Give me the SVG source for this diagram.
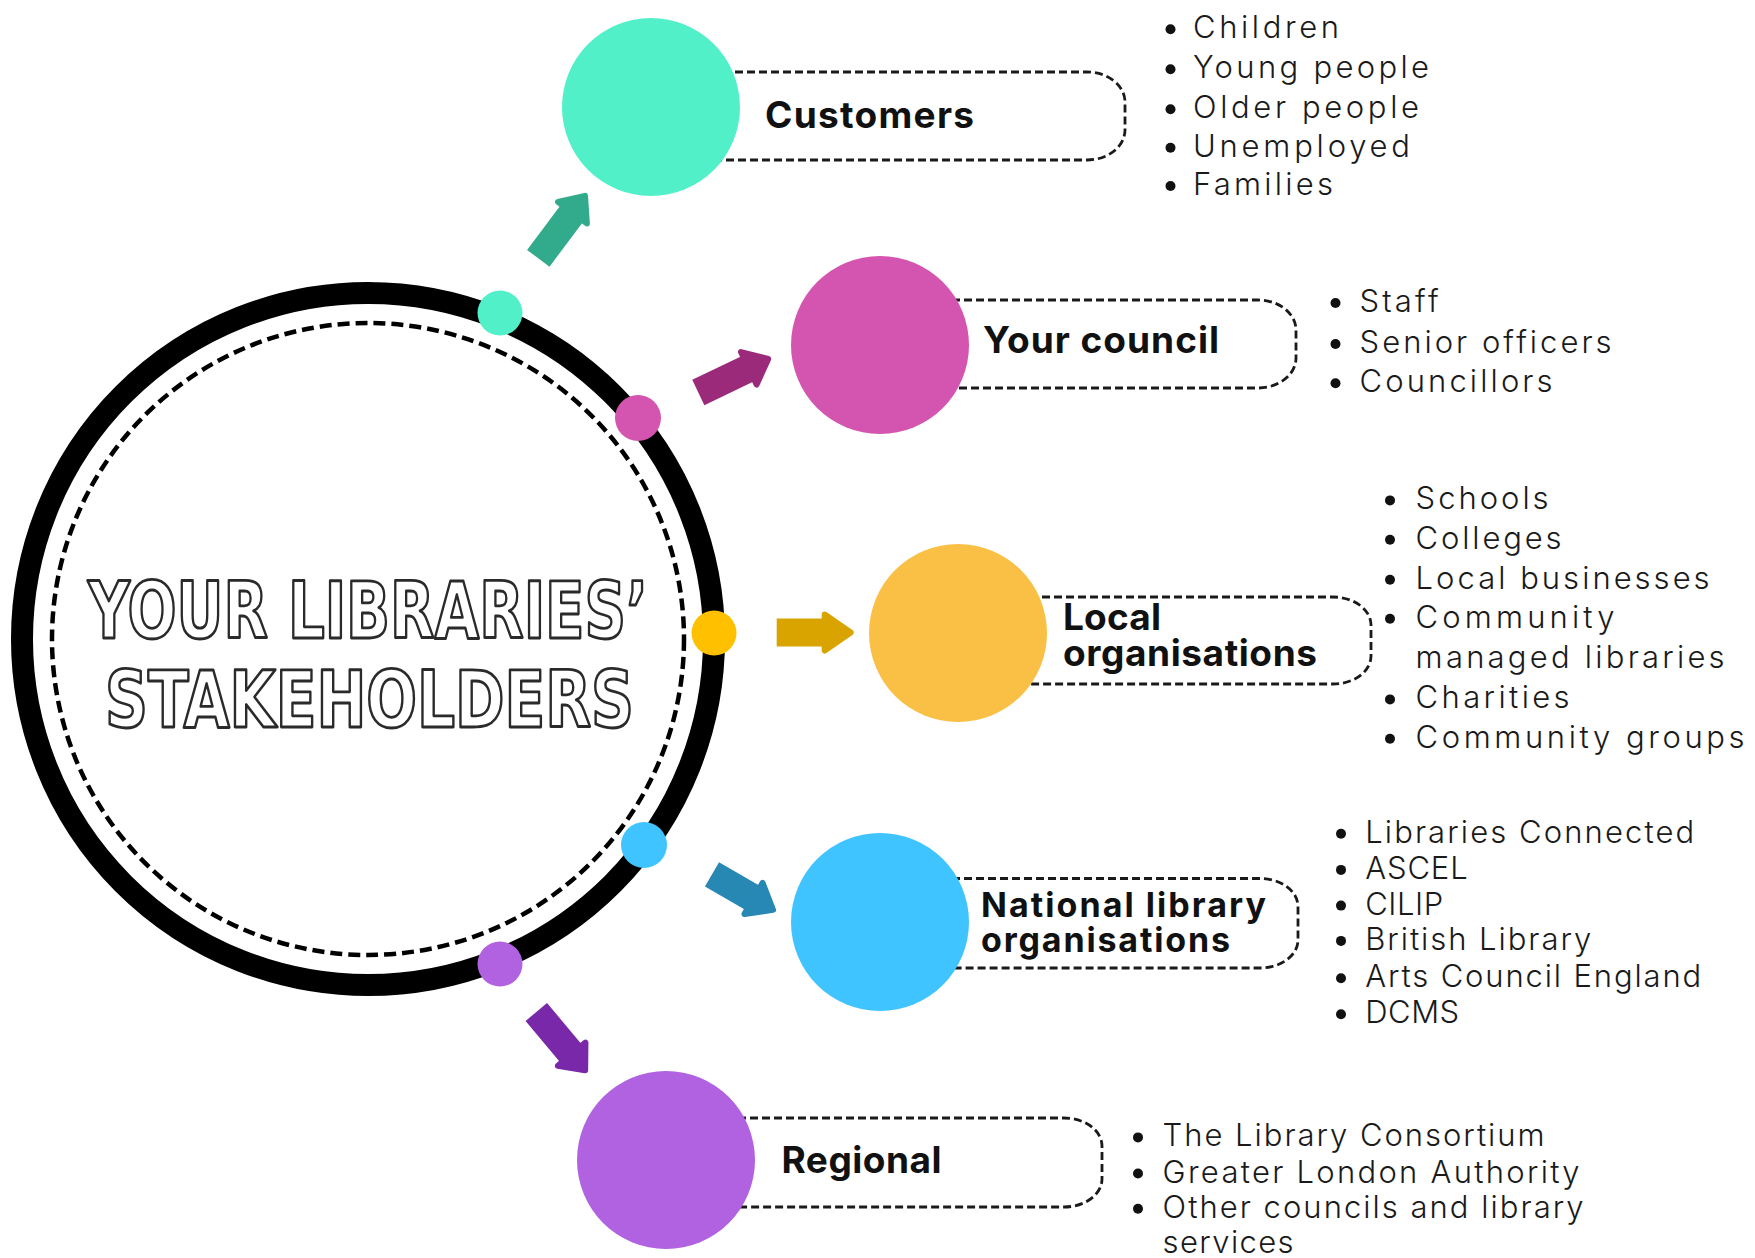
<svg xmlns="http://www.w3.org/2000/svg" width="1755" height="1258" viewBox="0 0 1755 1258">
<style>
.pill{fill:none;stroke:#1a1a1a;stroke-width:2.8;stroke-dasharray:8 4}
.lbl{font-family:Inter,"Noto Sans","Liberation Sans",sans-serif;font-weight:700;font-size:37px;fill:#111}
.lbl2{font-family:Inter,"Noto Sans","Liberation Sans",sans-serif;font-weight:700;font-size:34px;fill:#111}
.li{font-family:Inter,"Noto Sans","Liberation Sans",sans-serif;font-weight:300;font-size:31px;fill:#1a1a1a}
.bul{fill:#111}
.title{font-family:"DejaVu Sans Condensed","DejaVu Sans","Liberation Sans",sans-serif;font-stretch:condensed;font-weight:700;font-size:78px;fill:#fff;stroke:#2a2a2a;stroke-width:2.8;stroke-linejoin:round}
.head{stroke-width:6;stroke-linejoin:round}
</style>
<rect width="1755" height="1258" fill="#fff"/>

<g id="center">
<circle cx="368" cy="639" r="346" fill="none" stroke="#000" stroke-width="22"/>
<circle cx="368" cy="639" r="316" fill="none" stroke="#000" stroke-width="4.5" stroke-dasharray="12 6"/>
<text class="title" x="88" y="638" textLength="560" lengthAdjust="spacingAndGlyphs">YOUR LIBRARIES’</text>
<text class="title" x="105" y="727" textLength="529" lengthAdjust="spacingAndGlyphs">STAKEHOLDERS</text>
</g>

<g id="connectors">
<g transform="translate(538.3,258.3) rotate(-53.2)" fill="#32AA8C" stroke="#32AA8C">
<rect x="0" y="-14" width="59" height="28" stroke="none"/>
<polygon class="head" points="57,-18 78,0 57,18"/>
</g>
<g transform="translate(698.3,392.5) rotate(-25.6)" fill="#9B2B7A" stroke="#9B2B7A">
<rect x="0" y="-14" width="58" height="28" stroke="none"/>
<polygon class="head" points="56,-18 77.5,0 56,18"/>
</g>
<g transform="translate(776.7,632.5)" fill="#D9A400" stroke="#D9A400">
<rect x="0" y="-14" width="50" height="28" stroke="none"/>
<polygon class="head" points="48,-18 74,0 48,18"/>
</g>
<g transform="translate(712,874.3) rotate(30.2)" fill="#2788B4" stroke="#2788B4">
<rect x="0" y="-14" width="50" height="28" stroke="none"/>
<polygon class="head" points="48,-18 70.6,0 48,18"/>
</g>
<g transform="translate(536.3,1012) rotate(50)" fill="#7828A8" stroke="#7828A8">
<rect x="0" y="-14" width="57" height="28" stroke="none"/>
<polygon class="head" points="55,-18 76,0 55,18"/>
</g>
<circle cx="500" cy="313" r="22.5" fill="#52F0C8"/>
<circle cx="638" cy="418" r="23" fill="#D455B0"/>
<circle cx="714" cy="633" r="22.5" fill="#FFC000"/>
<circle cx="644" cy="845" r="23" fill="#40C4FF"/>
<circle cx="500" cy="964" r="22.5" fill="#B062E0"/>
</g>

<g id="customers">
<path class="pill" d="M651,72 H1087 A38,30 0 0 1 1125,102 V130 A38,30 0 0 1 1087,160 H651"/>
<circle cx="651" cy="107" r="89" fill="#52F0C8"/>
<text class="lbl" x="765" y="127.5" textLength="209" lengthAdjust="spacing">Customers</text>
<g class="bul"><circle cx="1170.5" cy="29.3" r="5"/><circle cx="1170.5" cy="69.3" r="5"/><circle cx="1170.5" cy="109.3" r="5"/><circle cx="1170.5" cy="147.7" r="5"/><circle cx="1170.5" cy="186" r="5"/></g>
<text class="li" x="1193" y="38.3" textLength="146" lengthAdjust="spacing">Children</text>
<text class="li" x="1193" y="78.3" textLength="236" lengthAdjust="spacing">Young people</text>
<text class="li" x="1193" y="118.3" textLength="226" lengthAdjust="spacing">Older people</text>
<text class="li" x="1193" y="156.7" textLength="217" lengthAdjust="spacing">Unemployed</text>
<text class="li" x="1193" y="195" textLength="140" lengthAdjust="spacing">Families</text>
</g>

<g id="council">
<path class="pill" d="M880,300 H1258 A38,30 0 0 1 1296,330 V358 A38,30 0 0 1 1258,388 H880"/>
<circle cx="880" cy="345" r="89" fill="#D455B0"/>
<text class="lbl" x="983" y="353" textLength="236" lengthAdjust="spacing">Your council</text>
<g class="bul"><circle cx="1335.5" cy="303" r="5"/><circle cx="1335.5" cy="344" r="5"/><circle cx="1335.5" cy="383.3" r="5"/></g>
<text class="li" x="1359.6" y="312" textLength="79" lengthAdjust="spacing">Staff</text>
<text class="li" x="1359.6" y="353" textLength="252" lengthAdjust="spacing">Senior officers</text>
<text class="li" x="1359.6" y="392.3" textLength="193" lengthAdjust="spacing">Councillors</text>
</g>

<g id="local">
<path class="pill" d="M958,597 H1333 A38,28 0 0 1 1371,625 V656 A38,28 0 0 1 1333,684 H958"/>
<circle cx="958" cy="633" r="89" fill="#FAC046"/>
<text class="lbl" x="1063" y="629.5" textLength="98" lengthAdjust="spacing">Local</text>
<text class="lbl" x="1063" y="666" textLength="254" lengthAdjust="spacing">organisations</text>
<g class="bul"><circle cx="1390" cy="500.4" r="5"/><circle cx="1390" cy="539.7" r="5"/><circle cx="1390" cy="579.8" r="5"/><circle cx="1390" cy="618.7" r="5"/><circle cx="1390" cy="699.4" r="5"/><circle cx="1390" cy="738.7" r="5"/></g>
<text class="li" x="1415.6" y="509.4" textLength="133" lengthAdjust="spacing">Schools</text>
<text class="li" x="1415.6" y="548.7" textLength="146" lengthAdjust="spacing">Colleges</text>
<text class="li" x="1415.6" y="588.8" textLength="294" lengthAdjust="spacing">Local businesses</text>
<text class="li" x="1415.6" y="627.7" textLength="199" lengthAdjust="spacing">Community</text>
<text class="li" x="1415.6" y="668.3" textLength="309" lengthAdjust="spacing">managed libraries</text>
<text class="li" x="1415.6" y="708.4" textLength="154" lengthAdjust="spacing">Charities</text>
<text class="li" x="1415.6" y="747.7" textLength="329" lengthAdjust="spacing">Community groups</text>
</g>

<g id="national">
<path class="pill" d="M880,878.5 H1260 A38,28 0 0 1 1298,906.5 V940 A38,28 0 0 1 1260,968 H880"/>
<circle cx="880" cy="922" r="89" fill="#40C4FF"/>
<text class="lbl2" x="981" y="917.3" textLength="285" lengthAdjust="spacing">National library</text>
<text class="lbl2" x="981" y="951.7" textLength="249" lengthAdjust="spacing">organisations</text>
<g class="bul"><circle cx="1341" cy="833.8" r="5"/><circle cx="1341" cy="869.9" r="5"/><circle cx="1341" cy="905.6" r="5"/><circle cx="1341" cy="940.9" r="5"/><circle cx="1341" cy="978.2" r="5"/><circle cx="1341" cy="1014.3" r="5"/></g>
<text class="li" x="1365.2" y="842.8" textLength="329" lengthAdjust="spacing">Libraries Connected</text>
<text class="li" x="1365.2" y="878.9" textLength="102.5" lengthAdjust="spacing">ASCEL</text>
<text class="li" x="1365.2" y="914.6" textLength="78" lengthAdjust="spacing">CILIP</text>
<text class="li" x="1365.2" y="949.9" textLength="226" lengthAdjust="spacing">British Library</text>
<text class="li" x="1365.2" y="987.2" textLength="336" lengthAdjust="spacing">Arts Council England</text>
<text class="li" x="1365.2" y="1023.3" textLength="94" lengthAdjust="spacing">DCMS</text>
</g>

<g id="regional">
<path class="pill" d="M666,1118 H1064 A38,28 0 0 1 1102,1146 V1179 A38,28 0 0 1 1064,1207 H666"/>
<circle cx="666" cy="1160" r="89" fill="#B062E0"/>
<text class="lbl" x="781.5" y="1172.5" textLength="160" lengthAdjust="spacing">Regional</text>
<g class="bul"><circle cx="1138" cy="1137.4" r="5"/><circle cx="1138" cy="1173.5" r="5"/><circle cx="1138" cy="1208.8" r="5"/></g>
<text class="li" x="1162.6" y="1146.4" textLength="382" lengthAdjust="spacing">The Library Consortium</text>
<text class="li" x="1162.6" y="1182.5" textLength="417" lengthAdjust="spacing">Greater London Authority</text>
<text class="li" x="1162.6" y="1217.8" textLength="421" lengthAdjust="spacing">Other councils and library</text>
<text class="li" x="1162.6" y="1252.7" textLength="131" lengthAdjust="spacing">services</text>
</g>
</svg>
